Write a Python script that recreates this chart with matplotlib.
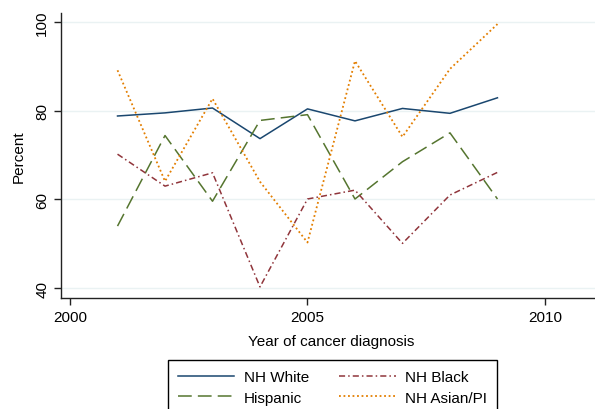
import matplotlib
matplotlib.use("Agg")
import matplotlib.pyplot as plt

plt.rcParams["font.family"] = ["Liberation Sans", "DejaVu Sans"]

years = [2001, 2002, 2003, 2004, 2005, 2006, 2007, 2008, 2009]
nh_white = [78.8, 79.5, 80.6, 73.7, 80.4, 77.7, 80.5, 79.4, 82.9]
hispanic = [54.0, 74.4, 59.6, 77.8, 79.1, 60.1, 68.5, 75.0, 60.1]
nh_black = [70.2, 63.0, 66.0, 40.3, 60.1, 62.1, 50.1, 61.0, 66.1]
nh_asian = [89.1, 64.1, 82.7, 64.0, 50.3, 91.2, 74.1, 89.4, 99.5]

xticks = [2000, 2005, 2010]
yticks = [40, 60, 80, 100]

NAVY = "#1a476f"
MAROON = "#90353b"
GREEN = "#55752f"
ORANGE = "#e37e00"
GRID = "#eaf2f3"

fig = plt.figure(figsize=(5.95, 4.10), dpi=100)
ax = fig.add_axes([61 / 595, 1 - 299 / 410, 540 / 595, 285 / 410])

l1, = ax.plot(years, nh_white, color=NAVY, lw=1.1, ls="-", label="NH White")
l2, = ax.plot(years, hispanic, color=GREEN, lw=1.1, ls=(0, (9, 4)), label="Hispanic")
l3, = ax.plot(years, nh_black, color=MAROON, lw=1.1, ls=(0, (4, 2, 1, 2)), label="NH Black")
l4, = ax.plot(years, nh_asian, color=ORANGE, lw=1.3, ls=(0, (1, 1.5)), label="NH Asian/PI")

ax.set_xlim(1999.81, 2011.18)
ax.set_ylim(37.8, 102)
ax.set_xticks(xticks)
ax.set_yticks(yticks)
ax.set_yticklabels([str(v) for v in yticks], rotation=90, va="center")
ax.tick_params(direction="out", length=5, width=1, labelsize=11, color="#222222")
ax.grid(axis="y", color=GRID, lw=1)
ax.set_axisbelow(True)
for s in ["top", "right"]:
    ax.spines[s].set_visible(False)
for s in ["left", "bottom"]:
    ax.spines[s].set_color("#222222")
    ax.spines[s].set_linewidth(1)

ax.set_xlabel("Year of cancer diagnosis", fontsize=11, labelpad=7)
ax.set_ylabel("Percent", fontsize=11, labelpad=7)

leg = fig.legend([l1, l2, l3, l4], ["NH White", "Hispanic", "NH Black", "NH Asian/PI"],
                 ncol=2, loc="upper left", bbox_to_anchor=(168 / 595, 1 - 361 / 410),
                 borderaxespad=0, fontsize=11, handlelength=3.7, columnspacing=2.0,
                 handletextpad=0.6, labelspacing=0.45, borderpad=0.65, fancybox=False,
                 edgecolor="black", framealpha=1)
leg.get_frame().set_linewidth(1)

fig.savefig("out.png", dpi=100)
